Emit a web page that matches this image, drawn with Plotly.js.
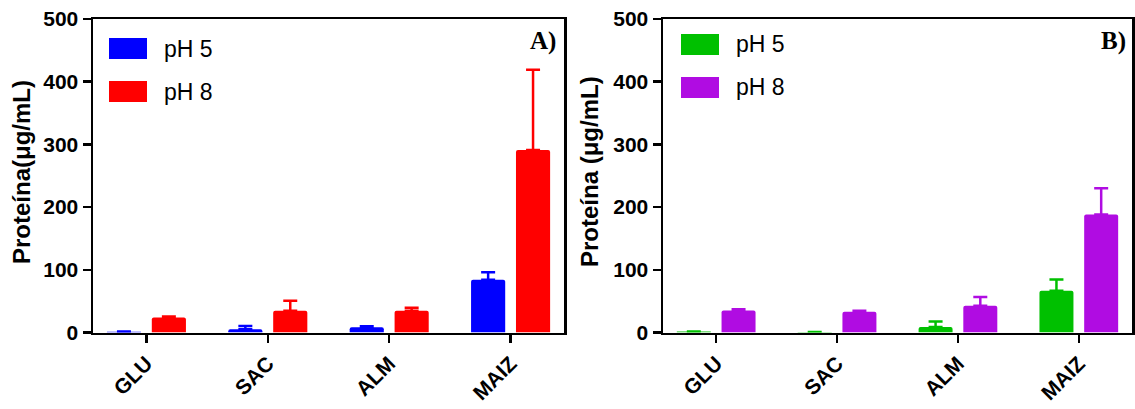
<!DOCTYPE html>
<html>
<head>
<meta charset="utf-8">
<script src="https://cdn.plot.ly/plotly-3.0.1.min.js"></script>
<style>html,body{margin:0;padding:0;background:#fff;}#chart{width:1135px;height:409px;}</style>
</head>
<body>
<div id="chart"></div>
<script>
const categories = ['GLU', 'SAC', 'ALM', 'MAIZ'];
const seriesNames = ['pH 5', 'pH 8'];
const yTicks = [0, 100, 200, 300, 400, 500];

const panelA_pH5 = [1, 5, 8.5, 84];
const panelA_pH5_err = [0.5, 5.5, 1.5, 12];
const panelA_pH8 = [24, 34.5, 34.5, 291];
const panelA_pH8_err = [1.5, 16, 5, 128];

const panelB_pH5 = [1.5, 0.8, 8.6, 66.5];
const panelB_pH5_err = [0, 0, 9, 18];
const panelB_pH8 = [35, 33, 42.5, 188];
const panelB_pH8_err = [2, 1.5, 14, 42];

const colorsA = ['#0000FF', '#FF0000'];
const colorsB = ['#00C000', '#B00CE2'];

function barTrace(vals, errs, color, name, xa, ya) {
  return {
    type: 'bar', x: categories, y: vals, name: name,
    xaxis: xa, yaxis: ya, showlegend: false,
    marker: {color: color, line: {width: 0}},
    error_y: {type: 'data', array: errs, arrayminus: errs.map(() => 0), symmetric: false,
              visible: true, color: color, thickness: 2.5, width: 7}
  };
}

const data = [
  barTrace(panelA_pH5, panelA_pH5_err, colorsA[0], seriesNames[0], 'x', 'y'),
  barTrace(panelA_pH8, panelA_pH8_err, colorsA[1], seriesNames[1], 'x', 'y'),
  barTrace(panelB_pH5, panelB_pH5_err, colorsB[0], seriesNames[0], 'x2', 'y2'),
  barTrace(panelB_pH8, panelB_pH8_err, colorsB[1], seriesNames[1], 'x2', 'y2')
];

const W = 1135, H = 409;
const px = v => v / W;
const py = v => 1 - v / H;

const tickFont = {family: 'Liberation Sans, Arial, sans-serif', size: 21, color: '#000', weight: 'bold'};
const xCommon = {
  type: 'category', range: [-0.44, 3.44], showline: true, linecolor: '#000', linewidth: 2.5,
  mirror: true, ticks: 'outside', ticklen: 8, tickwidth: 2.5, tickcolor: '#000',
  tickangle: -45, tickfont: tickFont,
  showgrid: false, zeroline: false, fixedrange: true
};
const yCommon = {
  range: [0, 500], tickvals: yTicks, ticktext: yTicks.map(String), showline: true, linecolor: '#000',
  linewidth: 2.5, mirror: true, ticks: 'outside', ticklen: 8, tickwidth: 2.5, tickcolor: '#000',
  tickfont: tickFont,
  showgrid: false, zeroline: false, fixedrange: true
};

const layout = {
  width: W, height: H,
  margin: {l: 0, r: 0, t: 0, b: 0},
  paper_bgcolor: '#fff', plot_bgcolor: '#fff',
  barmode: 'group', bargap: 0.26, bargroupgap: 0.24, barcornerradius: 2,
  showlegend: false,
  xaxis: Object.assign({}, xCommon, {domain: [px(93), px(564)], anchor: 'y'}),
  yaxis: Object.assign({}, yCommon, {domain: [py(332.5), py(19)], anchor: 'x'}),
  xaxis2: Object.assign({}, xCommon, {domain: [px(663), px(1132)], anchor: 'y2'}),
  yaxis2: Object.assign({}, yCommon, {domain: [py(332.5), py(19)], anchor: 'x2'}),
  shapes: [],
  annotations: []
};

const legendFont = {family: 'Liberation Sans, Arial, sans-serif', size: 23, color: '#000'};
function addLegend(x0, yTop, colors) {
  for (let i = 0; i < 2; i++) {
    const y0 = yTop + i * 43;
    layout.shapes.push({type: 'rect', xref: 'paper', yref: 'paper',
      x0: px(x0), x1: px(x0 + 38), y0: py(y0), y1: py(y0 + 21),
      fillcolor: colors[i], line: {width: 0}});
    layout.annotations.push({xref: 'paper', yref: 'paper', x: px(x0 + 53), y: py(y0 + 10.5),
      xanchor: 'left', yanchor: 'middle', text: seriesNames[i], showarrow: false, font: legendFont});
  }
}
addLegend(109, 38, colorsA);
addLegend(681, 34, colorsB);

const labelFont = {family: 'Liberation Serif, Times New Roman, serif', size: 25, color: '#000', weight: 'bold'};
layout.annotations.push({xref: 'paper', yref: 'paper', x: px(558), y: py(41), xanchor: 'right', yanchor: 'middle',
  text: 'A)', showarrow: false, font: labelFont});
layout.annotations.push({xref: 'paper', yref: 'paper', x: px(1128), y: py(41), xanchor: 'right', yanchor: 'middle',
  text: 'B)', showarrow: false, font: labelFont});

const titleFont = {family: 'Liberation Sans, Arial, sans-serif', size: 24, color: '#000', weight: 'bold'};
layout.annotations.push({xref: 'paper', yref: 'paper', x: px(22), y: py(172), xanchor: 'center', yanchor: 'middle',
  textangle: -90, text: 'Proteína(μg/mL)', showarrow: false, font: titleFont});
layout.annotations.push({xref: 'paper', yref: 'paper', x: px(590), y: py(172), xanchor: 'center', yanchor: 'middle',
  textangle: -90, text: 'Proteína (μg/mL)', showarrow: false, font: titleFont});

Plotly.newPlot('chart', data, layout, {displayModeBar: false, staticPlot: true});
</script>
</body>
</html>
